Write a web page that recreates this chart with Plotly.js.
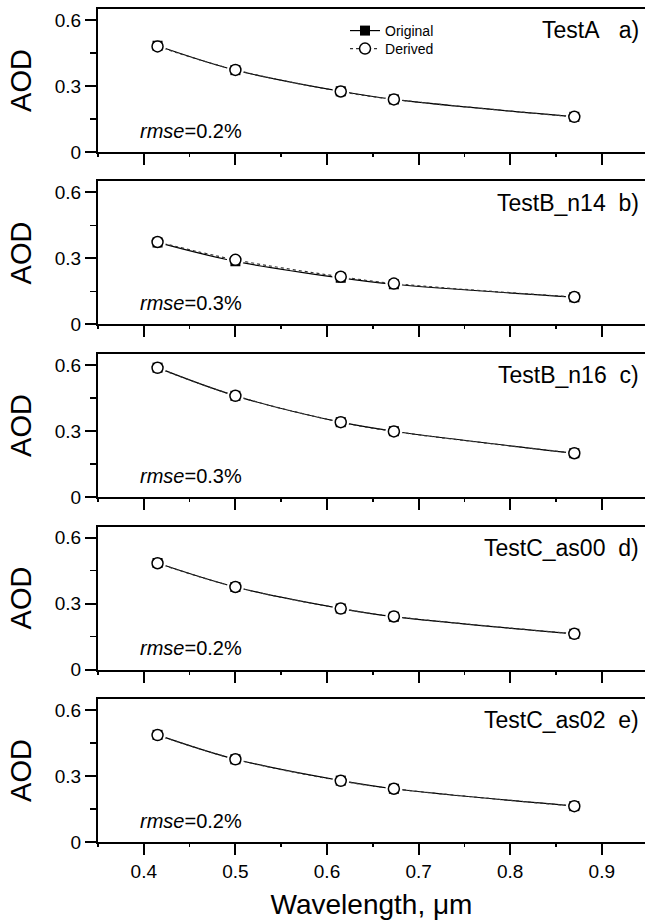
<!DOCTYPE html>
<html>
<head>
<meta charset="utf-8">
<script src="https://cdn.plot.ly/plotly-3.0.1.min.js"></script>
<style>html,body{margin:0;padding:0;background:#fff;}#chart{width:645px;height:924px;}</style>
</head>
<body>
<div id="chart"></div>
<script>
// ---- data ----
const wavelength = [0.415, 0.5, 0.615, 0.673, 0.87];

const panelNames = ["TestA\u00a0\u00a0\u00a0a)", "TestB_n14\u00a0\u00a0b)", "TestB_n16\u00a0\u00a0c)", "TestC_as00\u00a0\u00a0d)", "TestC_as02\u00a0\u00a0e)"];
const rmseLabels = ["0.2%", "0.3%", "0.3%", "0.2%", "0.2%"];

const origA = [0.483, 0.372, 0.276, 0.239, 0.160];
const derA  = [0.480, 0.373, 0.275, 0.239, 0.160];
const origB = [0.373, 0.287, 0.212, 0.183, 0.124];
const derB  = [0.375, 0.294, 0.217, 0.186, 0.125];
const origC = [0.588, 0.460, 0.340, 0.299, 0.199];
const derC  = [0.587, 0.460, 0.340, 0.298, 0.199];
const origD = [0.484, 0.375, 0.277, 0.240, 0.162];
const derD  = [0.483, 0.375, 0.277, 0.241, 0.162];
const origE = [0.487, 0.376, 0.279, 0.242, 0.163];
const derE  = [0.486, 0.376, 0.278, 0.242, 0.163];

const originals = [origA, origB, origC, origD, origE];
const deriveds = [derA, derB, derC, derD, derE];

// ---- layout geometry ----
const FONT = '"Liberation Sans", Arial, sans-serif';
const domains = [[0.82833, 1.0], [0.62125, 0.79292], [0.41417, 0.58583], [0.20708, 0.37875], [0.0, 0.17167]];

const traces = [];
const layout = {
  width: 645, height: 924,
  margin: {l: 98, r: 0, t: 9, b: 82},
  paper_bgcolor: '#fff', plot_bgcolor: '#fff',
  font: {family: FONT, color: '#000', size: 19},
  showlegend: true,
  legend: {
    x: 0.4516, y: 0.9736, xanchor: 'left', yanchor: 'middle',
    bgcolor: 'rgba(0,0,0,0)', borderwidth: 0,
    font: {family: FONT, size: 14, color: '#000'},
    itemwidth: 30
  },
  legend2: {
    x: 0.4516, y: 0.9520, xanchor: 'left', yanchor: 'middle',
    bgcolor: 'rgba(0,0,0,0)', borderwidth: 0,
    font: {family: FONT, size: 14, color: '#000'},
    itemwidth: 30
  },
  annotations: []
};

for (let i = 0; i < 5; i++) {
  const n = i === 0 ? '' : String(i + 1);
  const xa = 'x' + n, ya = 'y' + n;
  // lines
  traces.push({x: wavelength, y: originals[i], xaxis: xa, yaxis: ya, type: 'scatter', mode: 'lines',
    line: {color: '#000', width: 1.2, shape: 'spline'}, showlegend: false, hoverinfo: 'skip'});
  traces.push({x: wavelength, y: deriveds[i], xaxis: xa, yaxis: ya, type: 'scatter', mode: 'lines',
    line: {color: '#333', width: 1.2, dash: 'dot', shape: 'spline'}, showlegend: false, hoverinfo: 'skip'});
  // white gaps around markers
  traces.push({x: wavelength, y: deriveds[i], xaxis: xa, yaxis: ya, type: 'scatter', mode: 'markers',
    marker: {symbol: 'circle', size: 17, color: '#fff', line: {width: 0}}, showlegend: false, hoverinfo: 'skip'});
  // markers
  traces.push({x: wavelength, y: originals[i], xaxis: xa, yaxis: ya, type: 'scatter', mode: 'markers',
    marker: {symbol: 'square', size: 10, color: '#000', line: {width: 0}}, showlegend: false, name: 'Original'});
  traces.push({x: wavelength, y: deriveds[i], xaxis: xa, yaxis: ya, type: 'scatter', mode: 'markers',
    marker: {symbol: 'circle', size: 11, color: '#fff', line: {color: '#000', width: 1.5}}, showlegend: false, name: 'Derived'});

  layout['xaxis' + n] = {
    domain: [0, 1], anchor: ya, range: [0.35, 0.94716], matches: i === 0 ? undefined : 'x',
    tick0: 0.4, dtick: 0.1, ticks: 'outside', ticklen: 11, tickwidth: 2, tickcolor: '#000',
    minor: {dtick: 0.05, ticks: 'outside', ticklen: 3, tickwidth: 1.5, tickcolor: '#000'},
    showline: true, linewidth: 2, linecolor: '#000', mirror: true,
    showgrid: false, zeroline: false,
    showticklabels: i === 4, tickfont: {family: FONT, size: 19, color: '#000'},
    fixedrange: true
  };
  if (i === 4) {
    layout['xaxis' + n].title = {text: 'Wavelength, \u03bcm', font: {family: FONT, size: 28, color: '#000'}, standoff: 14};
  }
  layout['yaxis' + n] = {
    domain: domains[i], anchor: xa, range: [0, 0.65],
    tick0: 0, dtick: 0.3, ticks: 'outside', ticklen: 11, tickwidth: 2, tickcolor: '#000',
    minor: {dtick: 0.15, ticks: 'outside', ticklen: 6, tickwidth: 1.5, tickcolor: '#000'},
    showline: true, linewidth: 2, linecolor: '#000', mirror: false,
    showgrid: false, zeroline: false,
    tickfont: {family: FONT, size: 19, color: '#000'},
    title: {text: 'AOD', font: {family: FONT, size: 29, color: '#000'}, standoff: 15},
    fixedrange: true
  };
  layout.annotations.push({
    xref: xa + ' domain', yref: ya + ' domain', x: 0.993, y: 0.853, xanchor: 'right', yanchor: 'middle',
    text: panelNames[i], showarrow: false, font: {family: FONT, size: 23, color: '#000'}
  });
  layout.annotations.push({
    xref: xa, yref: ya + ' domain', x: 0.3937, y: 0.15, xanchor: 'left', yanchor: 'middle',
    text: '<i>rmse</i>=' + rmseLabels[i], showarrow: false, font: {family: FONT, size: 20, color: '#000'}
  });
}

// legend entries (one per legend box so the spacing follows the reference)
traces.push({x: [null], y: [null], type: 'scatter', mode: 'lines+markers', name: 'Original', legend: 'legend',
  line: {color: '#000', width: 1.2}, marker: {symbol: 'square', size: 10, color: '#000'}, showlegend: true, hoverinfo: 'skip'});
traces.push({x: [null], y: [null], type: 'scatter', mode: 'lines+markers', name: 'Derived', legend: 'legend2',
  line: {color: '#333', width: 1.2, dash: 'dot'}, marker: {symbol: 'circle', size: 11, color: '#fff', line: {color: '#000', width: 1.5}}, showlegend: true, hoverinfo: 'skip'});

Plotly.newPlot('chart', traces, layout, {staticPlot: true, displayModeBar: false});
</script>
</body>
</html>
